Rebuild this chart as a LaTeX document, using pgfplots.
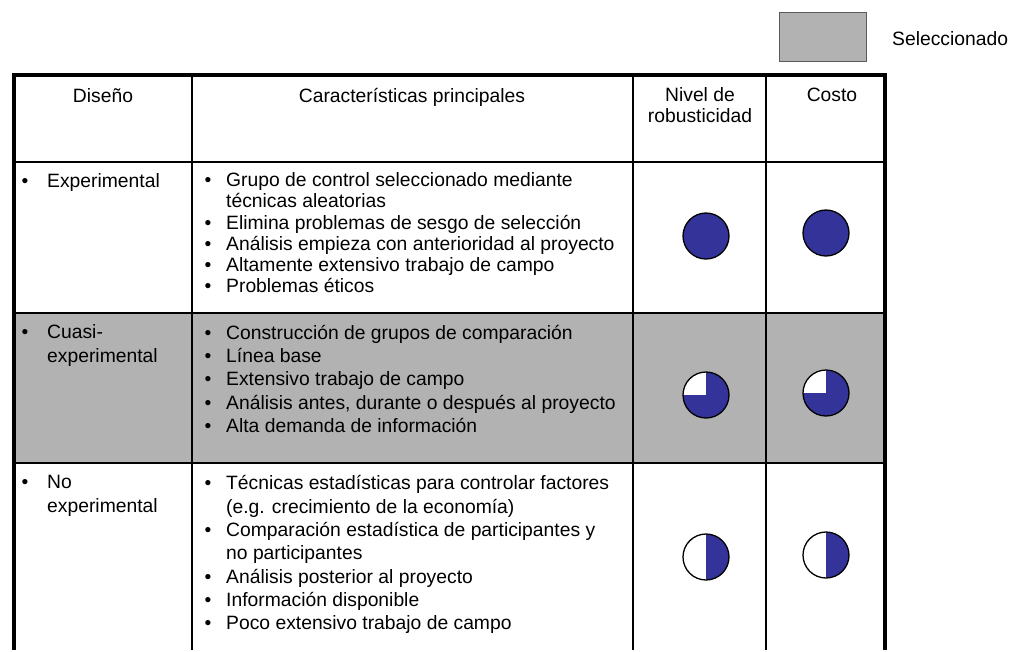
\documentclass[border=0pt]{standalone}
\usepackage{fontspec}
\setmainfont{Liberation Sans}
\usepackage{pgfplots}
\pgfplotsset{compat=1.18}
\definecolor{selgray}{RGB}{178,178,178}
\definecolor{hblue}{RGB}{51,51,153}
\definecolor{boxedge}{RGB}{90,90,90}
\pgfdeclareplotmark{harvey}{%
  \pgfsetfillcolor{white}%
  \pgfpathcircle{\pgfpointorigin}{23pt}\pgfusepath{fill}%
  \pgfmathsetmacro{\endang}{90-360*\hfrac}%
  \pgfsetfillcolor{hblue}%
  \pgfpathmoveto{\pgfpointorigin}%
  \pgfpathlineto{\pgfpointpolar{90}{23pt}}%
  \pgfpatharc{90}{\endang}{23pt}%
  \pgfpathclose\pgfusepath{fill}%
  \pgfsetlinewidth{1.3pt}\pgfsetstrokecolor{black}%
  \pgfpathcircle{\pgfpointorigin}{23pt}\pgfusepath{stroke}%
}
\begin{document}
\begin{tikzpicture}[
  txt/.style={font=\fontsize{19.3}{21}\selectfont, inner sep=0pt, anchor=base west},
  ctx/.style={font=\fontsize{19.3}{21}\selectfont, inner sep=0pt, anchor=base},
]
\begin{axis}[
  scale only axis, width=1010pt, height=650pt,
  xmin=0, xmax=1010, ymin=0, ymax=650, y dir=reverse,
  hide axis, clip=false,
]
% bounding helper
\addplot[draw=none, forget plot] coordinates {(0,0) (1010,650)};
% selected row shading
\addplot[fill=selgray, draw=none, forget plot] coordinates {(14,313) (885,313) (885,463) (14,463)} -- cycle;
% legend box
\addplot[fill=selgray, draw=boxedge, line width=1pt, forget plot] coordinates {(779,12) (866,12) (866,61) (779,61)} -- cycle;
% thin horizontal lines
\addplot[black, line width=1.5pt, forget plot] coordinates {(14,162) (885,162)};
\addplot[black, line width=1.5pt, forget plot] coordinates {(14,313) (885,313)};
\addplot[black, line width=1.5pt, forget plot] coordinates {(14,463) (885,463)};
% thin vertical lines
\addplot[black, line width=1.2pt, forget plot] coordinates {(192,75) (192,650)};
\addplot[black, line width=1.2pt, forget plot] coordinates {(633,75) (633,650)};
\addplot[black, line width=1.2pt, forget plot] coordinates {(766,75) (766,650)};
% thick outer lines
\addplot[black, line width=3.5pt, forget plot] coordinates {(14,650) (14,75) (885,75) (885,650)};
% Harvey balls
\addplot[only marks, mark=harvey, forget plot,
  visualization depends on={\thisrow{f} \as \hfrac},
] table[x=x, y=y] {
x y f
706 236 1.0
826 233 1.0
706 395 0.75
826 393 0.75
706 557 0.5
826 555 0.5
};
% legend text
\node[txt] at (axis cs:892,45) {Seleccionado};
% header
\node[ctx] at (axis cs:103,102) {Diseño};
\node[ctx] at (axis cs:412,102) {Características principales};
\node[ctx] at (axis cs:700,101) {Nivel de};
\node[ctx] at (axis cs:700,122) {robusticidad};
\node[ctx] at (axis cs:832,101) {Costo};
% row 1
\node[ctx] at (axis cs:25,187) {•};
\node[txt] at (axis cs:47,187) {Experimental};
\node[ctx] at (axis cs:208,186) {•};
\node[txt] at (axis cs:226,186) {Grupo de control seleccionado mediante};
\node[txt] at (axis cs:226,207) {técnicas aleatorias};
\node[ctx] at (axis cs:208,229) {•};
\node[txt] at (axis cs:226,229) {Elimina problemas de sesgo de selección};
\node[ctx] at (axis cs:208,250) {•};
\node[txt] at (axis cs:226,250) {Análisis empieza con anterioridad al proyecto};
\node[ctx] at (axis cs:208,271) {•};
\node[txt] at (axis cs:226,271) {Altamente extensivo trabajo de campo};
\node[ctx] at (axis cs:208,292) {•};
\node[txt] at (axis cs:226,292) {Problemas éticos};
% row 2
\node[ctx] at (axis cs:25,338) {•};
\node[txt] at (axis cs:47,338) {Cuasi-};
\node[txt] at (axis cs:47,362) {experimental};
\node[ctx] at (axis cs:208,339) {•};
\node[txt] at (axis cs:226,339) {Construcción de grupos de comparación};
\node[ctx] at (axis cs:208,362) {•};
\node[txt] at (axis cs:226,362) {Línea base};
\node[ctx] at (axis cs:208,385) {•};
\node[txt] at (axis cs:226,385) {Extensivo trabajo de campo};
\node[ctx] at (axis cs:208,409) {•};
\node[txt] at (axis cs:226,409) {Análisis antes, durante o después al proyecto};
\node[ctx] at (axis cs:208,432) {•};
\node[txt] at (axis cs:226,432) {Alta demanda de información};
% row 3
\node[ctx] at (axis cs:25,488) {•};
\node[txt] at (axis cs:47,488) {No};
\node[txt] at (axis cs:47,512) {experimental};
\node[ctx] at (axis cs:208,489) {•};
\node[txt] at (axis cs:226,489) {Técnicas estadísticas para controlar factores};
\node[txt] at (axis cs:226,513) {(e.g. crecimiento de la economía)};
\node[ctx] at (axis cs:208,536) {•};
\node[txt] at (axis cs:226,536) {Comparación estadística de participantes y};
\node[txt] at (axis cs:226,559) {no participantes};
\node[ctx] at (axis cs:208,583) {•};
\node[txt] at (axis cs:226,583) {Análisis posterior al proyecto};
\node[ctx] at (axis cs:208,606) {•};
\node[txt] at (axis cs:226,606) {Información disponible};
\node[ctx] at (axis cs:208,629) {•};
\node[txt] at (axis cs:226,629) {Poco extensivo trabajo de campo};
\end{axis}
\end{tikzpicture}
\end{document}
